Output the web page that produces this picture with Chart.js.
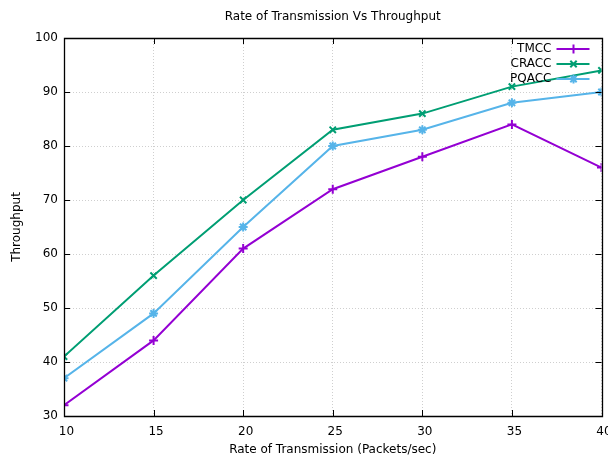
<!DOCTYPE html>
<html><head><meta charset="utf-8">
<script src="https://cdn.jsdelivr.net/npm/chart.js@4.4.0/dist/chart.umd.min.js"></script>
<style>html,body{margin:0;padding:0;background:#fff}#wrap{width:608px;height:455px}</style>
</head><body><div id="wrap"><canvas id="c" width="608" height="455"></canvas></div>
<script>
const rates = [10, 15, 20, 25, 30, 35, 40];
const tmcc  = [32, 44, 61, 72, 78, 84, 76];
const cracc = [41, 56, 70, 83, 86, 91, 94];
const pqacc = [37, 49, 65, 80, 83, 88, 90];
const xTicks = [10, 15, 20, 25, 30, 35, 40];
const yTicks = [30, 40, 50, 60, 70, 80, 90, 100];
const seriesNames = ['TMCC', 'CRACC', 'PQACC'];
const seriesColors = ['#9400d3', '#009e73', '#56b4e9'];
const seriesMarkers = ['cross', 'crossRot', 'star'];
const chartTitle = 'Rate of Transmission Vs Throughput';
const FONT = 'DejaVu Sans';

const toXY = arr => arr.map((v, i) => ({x: rates[i], y: v}));
const datasets = [tmcc, cracc, pqacc].map((arr, i) => ({
  label: seriesNames[i], data: toXY(arr),
  borderColor: seriesColors[i], backgroundColor: seriesColors[i],
  borderWidth: 2, pointStyle: seriesMarkers[i], pointRadius: 4.5,
  pointBorderWidth: 2, pointHoverRadius: 4.5, tension: 0, fill: false
}));

const framePlugin = {
  id: 'frame',
  afterDatasetsDraw(chart) {
    const {ctx, chartArea: a, scales: {x, y}} = chart;
    ctx.save();
    // title centred over plot area
    ctx.fillStyle = '#000';
    ctx.font = '12px ' + FONT;
    ctx.textAlign = 'center'; ctx.textBaseline = 'middle';
    ctx.fillText(chartTitle, (a.left + a.right) / 2, 17);
    ctx.strokeStyle = '#000'; ctx.lineWidth = 1.3;
    ctx.beginPath();
    ctx.rect(Math.round(a.left) + 0.5, Math.round(a.top) + 0.5, Math.round(a.right - a.left), Math.round(a.bottom - a.top));
    ctx.stroke();
    ctx.beginPath();
    ctx.lineWidth = 1;
    const tl = 6;
    xTicks.forEach(v => {
      const px = Math.round(x.getPixelForValue(v)) + 0.5;
      ctx.moveTo(px, a.bottom); ctx.lineTo(px, a.bottom - tl);
      ctx.moveTo(px, a.top); ctx.lineTo(px, a.top + tl);
    });
    yTicks.forEach(v => {
      const py = Math.round(y.getPixelForValue(v)) + 0.5;
      ctx.moveTo(a.left, py); ctx.lineTo(a.left + tl, py);
      ctx.moveTo(a.right, py); ctx.lineTo(a.right - tl, py);
    });
    ctx.stroke();
    // legend (gnuplot style, top right inside)
    ctx.font = '12px ' + FONT;
    ctx.textAlign = 'right'; ctx.textBaseline = 'middle';
    chart.data.datasets.forEach((ds, i) => {
      const ly = a.top + 11 + i * 15;
      const tx = a.right - 50;
      ctx.fillStyle = '#000';
      ctx.fillText(ds.label, tx, ly);
      ctx.strokeStyle = ds.borderColor; ctx.fillStyle = ds.borderColor; ctx.lineWidth = 2;
      ctx.beginPath(); ctx.moveTo(tx + 5, ly); ctx.lineTo(tx + 38, ly); ctx.stroke();
      Chart.helpers.drawPoint(ctx, {pointStyle: ds.pointStyle, radius: 4.5, borderWidth: 2, rotation: 0}, tx + 22, ly);
    });
    ctx.restore();
  }
};

function shiftLabels(s) {
  if (s._shifted) return;
  s._shifted = true;
  const orig = s.drawLabels;
  s.drawLabels = function (area) {
    const ctx = this.ctx;
    ctx.save(); ctx.translate(2.5, 0);
    orig.call(this, area);
    ctx.restore();
  };
}

new Chart(document.getElementById('c'), {
  type: 'line',
  data: {datasets},
  options: {
    responsive: false, animation: false, devicePixelRatio: 1,
    layout: {padding: {left: 0, right: 4, top: 38, bottom: 0}},
    plugins: {
      legend: {display: false}, tooltip: {enabled: false}, title: {display: false}
    },
    scales: {
      x: {
        type: 'linear', min: 10, max: 40,
        afterBuildTicks: s => { s.ticks = xTicks.map(v => ({value: v})); },
        afterFit: s => { s.height = 39; s.paddingLeft = 0; s.paddingRight = 0; shiftLabels(s); },
        grid: {color: '#cfcfcf', lineWidth: 1, drawTicks: false},
        border: {display: false, dash: [1, 2]},
        ticks: {color: '#000', font: {family: FONT, size: 12}, padding: 9, maxRotation: 0, autoSkip: false},
        title: {display: true, text: 'Rate of Transmission (Packets/sec)', color: '#000',
          font: {family: FONT, size: 12}, padding: {top: 4, bottom: -2}}
      },
      y: {
        min: 30, max: 100,
        afterBuildTicks: s => { s.ticks = yTicks.map(v => ({value: v})); },
        afterFit: s => { s.width = 64; s.paddingTop = 0; s.paddingBottom = 0; },
        grid: {color: '#cfcfcf', lineWidth: 1, drawTicks: false},
        border: {display: false, dash: [1, 2]},
        ticks: {color: '#000', font: {family: FONT, size: 12}, padding: 6},
        title: {display: true, text: 'Throughput', color: '#000',
          font: {family: FONT, size: 12}, padding: {top: 10, bottom: 4}}
      }
    }
  },
  plugins: [framePlugin]
});
</script></body></html>
